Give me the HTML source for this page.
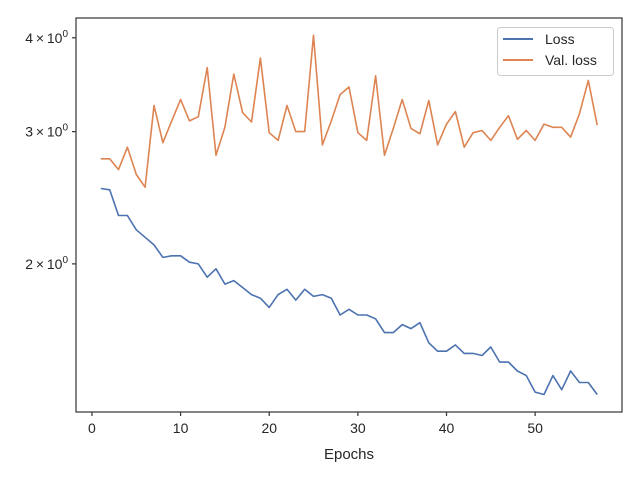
<!DOCTYPE html>
<html><head><meta charset="utf-8"><style>
body{margin:0;background:#fff}
svg text{font-family:"Liberation Sans","DejaVu Sans",sans-serif;fill:#262626}
</style></head><body>
<svg width="640" height="480" id="chart">
<rect x="0" y="0" width="640" height="480" fill="#fff"/>
<g id="plot"></g>
<rect x="76" y="18" width="546" height="394" fill="none" stroke="#3a3a3a" stroke-width="1.25"/>
<text x="349" y="459" font-size="15" text-anchor="middle">Epochs</text>
<g>
<rect x="497.5" y="27.5" width="116" height="48" rx="3" fill="#fff" fill-opacity="0.8" stroke="#ccc"/>
<line x1="503" y1="39" x2="533" y2="39" stroke="#4c72b0" stroke-width="2"/>
<text x="545" y="44" font-size="14">Loss</text>
<line x1="503" y1="60" x2="533" y2="60" stroke="#dd8452" stroke-width="2"/>
<text x="545" y="65" font-size="14">Val. loss</text>
</g>
</svg>
<script>
const epochs = Array.from({length:57},(_, i)=>i+1);
const lossValues = [2.52,2.51,2.32,2.32,2.22,2.17,2.12,2.04,2.05,2.05,2.01,2.00,1.92,1.97,1.88,1.90,1.86,1.82,1.80,1.75,1.82,1.85,1.79,1.85,1.81,1.82,1.80,1.71,1.74,1.71,1.71,1.69,1.62,1.62,1.66,1.64,1.67,1.57,1.53,1.53,1.56,1.52,1.52,1.51,1.55,1.48,1.48,1.44,1.42,1.35,1.34,1.42,1.36,1.44,1.39,1.39,1.34];
const valLossValues = [2.76,2.76,2.67,2.86,2.63,2.53,3.25,2.90,3.10,3.31,3.10,3.14,3.65,2.79,3.04,3.58,3.18,3.09,3.76,2.99,2.92,3.25,3.00,3.00,4.03,2.88,3.10,3.36,3.44,2.99,2.92,3.56,2.79,3.03,3.31,3.03,2.98,3.30,2.88,3.07,3.19,2.86,2.99,3.01,2.92,3.04,3.15,2.93,3.01,2.92,3.07,3.04,3.04,2.95,3.17,3.51,3.06];
const xTicks = [0,10,20,30,40,50];
const yTicks = [2,3,4];
const yTickLabels = ["2","3","4"];

const NS="http://www.w3.org/2000/svg";
const g=document.getElementById('plot');
const X0=76,X1=622,Y0=412,Y1=18;
const xMin=-1.8,xMax=59.8,yMin=1.27,yMax=4.25;
function xs(v){return X0+(v-xMin)/(xMax-xMin)*(X1-X0);}
function ys(v){return Y0-(Math.log(v)-Math.log(yMin))/(Math.log(yMax)-Math.log(yMin))*(Y0-Y1);}
function mk(t,a){const e=document.createElementNS(NS,t);for(const k in a)e.setAttribute(k,a[k]);g.appendChild(e);return e;}

xTicks.forEach(t=>{
  const l=mk('line',{x1:xs(t),x2:xs(t),y1:Y0,y2:Y0+4,stroke:'#3a3a3a','stroke-width':1.25});
  
  
  const tx=mk('text',{x:xs(t),y:Y0+21,'font-size':14,'text-anchor':'middle'});
  tx.textContent=t;
  
  
});
yTicks.forEach((t,i)=>{
  const y=ys(t);
  const l=mk('line',{x1:X0-4,x2:X0,y1:y,y2:y,stroke:'#3a3a3a','stroke-width':1.25});
  
  
  const tx=mk('text',{x:X0-8,y:y+5,'font-size':14,'text-anchor':'end'});
  tx.innerHTML=yTickLabels[i]+'\u2009\u00d7\u200910<tspan dy="-6" font-size="10">0</tspan>';
  
  
});
function line(vals,color,name){
  const d=vals.map((v,i)=>(i?'L':'M')+xs(epochs[i]).toFixed(1)+' '+ys(v).toFixed(1)).join(' ');
  const p=mk('path',{d:d,fill:'none',stroke:color,'stroke-width':1.6,'stroke-linejoin':'round'});
  
  
}
line(lossValues,'#4c72b0','loss-line');
line(valLossValues,'#dd8452','val-loss-line');
</script>
</body></html>
